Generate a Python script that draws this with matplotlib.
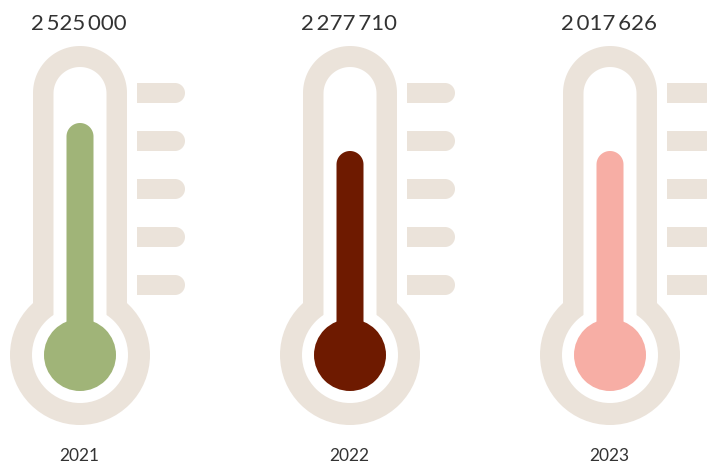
import numpy as np
import matplotlib
matplotlib.use("Agg")
import matplotlib.pyplot as plt
from matplotlib.patches import Circle, Polygon

# data
years = ["2021", "2022", "2023"]
values = [2525000, 2277710, 2017626]
fluid_colors = ["#A0B478", "#6E1A00", "#F7AEA5"]

BEIGE = "#EBE3DA"
TEXT = "#333333"
plt.rcParams['font.family'] = ['Lato', 'DejaVu Sans']

centers = [80, 350, 610]      # x of each thermometer, pixel units
bulb_y = 356
tick_ys = [94, 142, 190, 238, 286]


def fluid_top(v):
    # level goes up in steps of 500 000, 56 px per million
    level = (v // 500000) * 500000
    return 264 - level / 1e6 * 56


def capsule(ax, cx, top, half, color):
    # vertical stick with round top, running down to bulb centre (one polygon, no seam)
    t = np.linspace(0, np.pi, 60)
    xs = cx + half * np.cos(t)
    ys = top + half - half * np.sin(t)
    pts = list(zip(xs, ys)) + [(cx - half, bulb_y), (cx + half, bulb_y)]
    ax.add_patch(Polygon(pts, closed=True, color=color, lw=0))


def tick(ax, x0, ty, color):
    # flat left end, round right end
    t = np.linspace(-np.pi / 2, np.pi / 2, 30)
    xs = x0 + 38 + 10 * np.cos(t)
    ys = ty + 10 * np.sin(t)
    pts = [(x0, ty - 10)] + list(zip(xs, ys)) + [(x0, ty + 10)]
    ax.add_patch(Polygon(pts, closed=True, color=color, lw=0))


fig = plt.figure(figsize=(7.07, 4.64), dpi=100)
ax = fig.add_axes([0, 0, 1, 1])
ax.set_xlim(0, 707)
ax.set_ylim(464, 0)
ax.set_aspect('equal')
ax.axis('off')

for cx, yr, v, col in zip(centers, years, values, fluid_colors):
    # outer glass
    capsule(ax, cx, 47, 47, BEIGE)
    ax.add_patch(Circle((cx, bulb_y), 70, color=BEIGE, lw=0))
    # inside
    capsule(ax, cx, 68, 26.5, "white")
    ax.add_patch(Circle((cx, bulb_y), 48, color="white", lw=0))
    # fluid
    capsule(ax, cx, fluid_top(v), 13.5, col)
    ax.add_patch(Circle((cx, bulb_y), 36, color=col, lw=0))
    # scale marks
    for ty in tick_ys:
        tick(ax, cx + 57, ty, BEIGE)

    label = f"{v:,}".replace(",", "\u2009")
    ax.text(cx - 1, 24, label, ha='center', va='center', fontsize=16,
            color=TEXT)
    ax.text(cx - 1, 456, yr, ha='center', va='center', fontsize=12.5,
            color=TEXT)

fig.savefig("out.png", dpi=100, facecolor="white")
